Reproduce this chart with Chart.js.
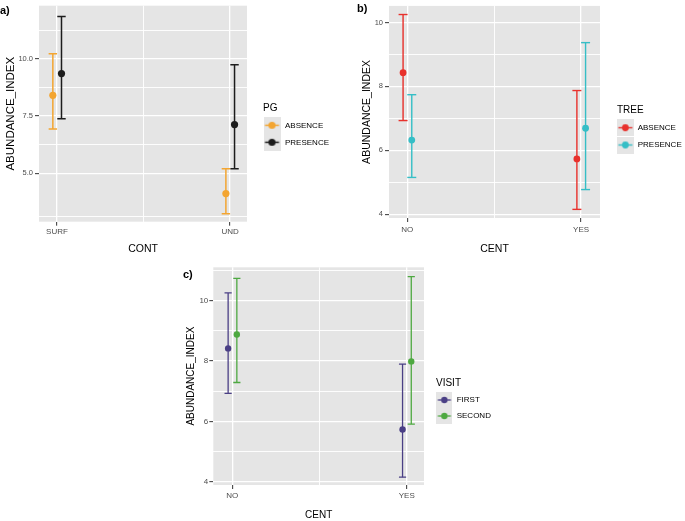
<!DOCTYPE html>
<html>
<head>
<meta charset="utf-8">
<script src="https://cdn.jsdelivr.net/npm/chart.js@4.4.1/dist/chart.umd.min.js"></script>
<style>
  html, body { margin: 0; padding: 0; background: #ffffff; }
  #wrap { position: relative; width: 685px; height: 521px; overflow: hidden; }
  #wrap canvas { position: absolute; }
</style>
</head>
<body>
<div id="wrap">
  <canvas id="panelA" width="340" height="258" style="left:0px;top:0px"></canvas>
  <canvas id="panelB" width="345" height="258" style="left:340px;top:0px"></canvas>
  <canvas id="panelC" width="400" height="263" style="left:150px;top:258px"></canvas>
</div>
<script>
// ---------------- DATA ----------------
// Panel a) ABUNDANCE_INDEX by CONT, grouped by PG
const contCategories = ['SURF', 'UND'];
const pgGroups = ['ABSENCE', 'PRESENCE'];
const pgAbsenceMean  = [8.41, 4.11];
const pgAbsenceLow   = [6.94, 3.23];
const pgAbsenceHigh  = [10.23, 5.20];
const pgPresenceMean = [9.36, 7.13];
const pgPresenceLow  = [7.38, 5.20];
const pgPresenceHigh = [11.86, 9.75];
const pgMajorTicks = [5.0, 7.5, 10.0];
const pgMinorTicks = [3.1, 6.25, 8.75, 11.25];

// Panel b) ABUNDANCE_INDEX by CENT, grouped by TREE
const centCategories = ['NO', 'YES'];
const treeGroups = ['ABSENCE', 'PRESENCE'];
const treeAbsenceMean  = [8.43, 5.73];
const treeAbsenceLow   = [6.93, 4.15];
const treeAbsenceHigh  = [10.25, 7.87];
const treePresenceMean = [6.32, 6.69];
const treePresenceLow  = [5.15, 4.77];
const treePresenceHigh = [7.74, 9.37];
const treeMajorTicks = [4, 6, 8, 10];
const treeMinorTicks = [5, 7, 9];

// Panel c) ABUNDANCE_INDEX by CENT, grouped by VISIT
const visitGroups = ['FIRST', 'SECOND'];
const visitFirstMean  = [8.42, 5.73];
const visitFirstLow   = [6.93, 4.15];
const visitFirstHigh  = [10.26, 7.90];
const visitSecondMean = [8.88, 7.99];
const visitSecondLow  = [7.29, 5.91];
const visitSecondHigh = [10.74, 10.80];
const visitMajorTicks = [4, 6, 8, 10];
const visitMinorTicks = [5, 7, 9, 11];

// category positions on the x axis (1 = first category, 2 = second) and the mid grid line
const xMajorPositions = [1, 2];
const xMinorPositions = [1.5];

// ---------------- STYLE ----------------
const FONT = "'Liberation Sans', Arial, Helvetica, sans-serif";
const PANEL_BG = '#E5E5E5';
Chart.defaults.font.family = FONT;

function makeKey(color, w, h, lw, r) {
  const c = document.createElement('canvas');
  c.width = w; c.height = h;
  const g = c.getContext('2d');
  g.fillStyle = PANEL_BG;
  g.fillRect(0, 0, w, h);
  g.strokeStyle = color; g.lineWidth = lw;
  g.beginPath(); g.moveTo(1.5, h / 2); g.lineTo(w - 1.5, h / 2); g.stroke();
  g.fillStyle = color;
  g.beginPath(); g.arc(w / 2, h / 2, r, 0, Math.PI * 2); g.fill();
  return c;
}

function buildPanel(p) {
  const datasets = [];
  p.groups.forEach((g) => {
    const errData = [];
    p.categories.forEach((cat, i) => {
      const x = i + 1 + g.offset;
      errData.push({ x: x, y: g.low[i] }, { x: x, y: g.high[i] }, { x: x, y: null });
    });
    datasets.push({
      label: g.name + ' interval', data: errData, showLine: true, spanGaps: false,
      borderColor: g.color, borderWidth: p.lineWidth, backgroundColor: g.color,
      pointStyle: 'line', pointRadius: p.capHalf, pointHoverRadius: p.capHalf,
      pointBorderColor: g.color, pointBorderWidth: p.lineWidth, order: 1
    });
  });
  p.groups.forEach((g) => {
    datasets.push({
      label: g.name,
      data: g.mean.map((m, i) => ({ x: i + 1 + g.offset, y: m })),
      showLine: false, pointStyle: 'circle', pointRadius: p.pointR, pointHoverRadius: p.pointR,
      pointBackgroundColor: g.color, pointBorderColor: g.color, pointBorderWidth: 0, order: 0
    });
  });

  const keyImgs = p.groups.map(g => makeKey(g.color, p.keyW, p.keyH, p.lineWidth, p.pointR));
  const yMajor = p.majorTicks, yAll = p.majorTicks.concat(p.minorTicks).sort((a, b) => a - b);
  const xAll = xMajorPositions.concat(xMinorPositions).sort((a, b) => a - b);
  const isMajorY = v => yMajor.some(m => Math.abs(m - v) < 1e-9);
  const isMajorX = v => xMajorPositions.some(m => Math.abs(m - v) < 1e-9);

  const bgPlugin = {
    id: 'panelBg',
    beforeDraw(chart) {
      const a = chart.chartArea, ctx = chart.ctx;
      ctx.save(); ctx.fillStyle = PANEL_BG;
      ctx.fillRect(a.left, a.top, a.right - a.left, a.bottom - a.top);
      ctx.restore();
    }
  };
  const tagPlugin = {
    id: 'panelTag',
    afterDraw(chart) {
      const ctx = chart.ctx;
      ctx.save();
      ctx.font = 'bold 11px ' + FONT;
      ctx.fillStyle = '#000';
      ctx.textBaseline = 'middle'; ctx.textAlign = 'left';
      ctx.fillText(p.tag, p.tagX, p.tagY);
      ctx.restore();
    }
  };

  return new Chart(document.getElementById(p.canvas), {
    type: 'scatter',
    data: { datasets: datasets },
    plugins: [bgPlugin, tagPlugin],
    options: {
      responsive: false, animation: false, events: [],
      layout: { padding: { top: p.padTop, left: 0, right: p.padRight, bottom: 0 } },
      plugins: {
        tooltip: { enabled: false },
        legend: {
          display: true, position: 'right', align: 'start', maxWidth: p.legendMaxW,
          title: {
            display: true, text: p.legendTitle, position: 'start', color: '#000',
            font: { size: 10, lineHeight: 1 },
            padding: { top: p.legTitleTop, bottom: p.legTitleBottom }
          },
          labels: {
            usePointStyle: true, pointStyleWidth: p.boxW, padding: 0, color: '#000',
            font: { size: 8, lineHeight: p.keySpacing / 8 },
            generateLabels: () => p.groups.map((g, gi) => ({
              text: [g.name], pointStyle: keyImgs[gi], fillStyle: g.color, strokeStyle: g.color,
              lineWidth: 0, hidden: false, datasetIndex: gi, fontColor: '#000'
            }))
          }
        }
      },
      scales: {
        x: {
          type: 'linear', min: p.xMin, max: p.xMax,
          afterBuildTicks: s => { s.ticks = xAll.map(v => ({ value: v })); },
          afterFit: s => { s.height = p.xAxisH; s.paddingLeft = 0; s.paddingRight = 0; },
          ticks: {
            autoSkip: false, maxRotation: 0, padding: p.xTickPad, color: '#4D4D4D',
            font: { size: 8, lineHeight: 1.2 },
            callback: v => isMajorX(v) ? p.categories[Math.round(v) - 1] : ''
          },
          grid: {
            color: '#FFFFFF', drawTicks: true, tickLength: 4,
            lineWidth: c => (c.tick && isMajorX(c.tick.value)) ? 1.3 : 0.9,
            tickColor: c => (c.tick && isMajorX(c.tick.value)) ? '#333333' : 'rgba(0,0,0,0)',
            tickWidth: 1
          },
          border: { display: false },
          title: {
            display: true, text: p.xTitle, color: '#000',
            font: { size: p.xTitleSize, lineHeight: 1 }, padding: { top: 0, bottom: p.xTitlePadB }
          }
        },
        y: {
          type: 'linear', position: 'left', min: p.yMin, max: p.yMax,
          afterBuildTicks: s => { s.ticks = yAll.map(v => ({ value: v })); },
          afterFit: s => { s.width = p.yAxisW; s.paddingTop = 0; s.paddingBottom = 0; },
          ticks: {
            autoSkip: false, padding: p.yTickPad, color: '#4D4D4D',
            font: { size: p.yTickSize, lineHeight: 1.2 },
            callback: v => isMajorY(v) ? p.tickFmt(v) : ''
          },
          grid: {
            color: '#FFFFFF', drawTicks: true, tickLength: 4,
            lineWidth: c => (c.tick && isMajorY(c.tick.value)) ? 1.3 : 0.9,
            tickColor: c => (c.tick && isMajorY(c.tick.value)) ? '#333333' : 'rgba(0,0,0,0)',
            tickWidth: 1
          },
          border: { display: false },
          title: {
            display: true, text: 'ABUNDANCE_INDEX', color: '#000',
            font: { size: p.yTitleSize, lineHeight: 1 }, padding: { top: p.yTitlePadT, bottom: 0 }
          }
        },
        yGap: {
          type: 'linear', position: 'right', display: true,
          ticks: { display: false }, grid: { display: false, drawTicks: false },
          border: { display: false }, title: { display: false },
          afterFit: s => { s.width = p.legendGap; s.paddingTop = 0; s.paddingBottom = 0; }
        }
      }
    }
  });
}

// ---------------- PANELS ----------------
buildPanel({
  canvas: 'panelA', tag: 'a)', tagX: 0, tagY: 11,
  categories: contCategories,
  groups: [
    { name: pgGroups[0], color: '#F3A531', mean: pgAbsenceMean, low: pgAbsenceLow, high: pgAbsenceHigh, offset: -0.024 },
    { name: pgGroups[1], color: '#1C1C1C', mean: pgPresenceMean, low: pgPresenceLow, high: pgPresenceHigh, offset: 0.026 }
  ],
  majorTicks: pgMajorTicks, minorTicks: pgMinorTicks, tickFmt: v => v.toFixed(1),
  yMin: 2.88, yMax: 12.33, xMin: 0.896, xMax: 2.098,
  padTop: 3, padRight: 7, yAxisW: 39, xAxisH: 36.3,
  yTitleSize: 11.5, yTitlePadT: 5, yTickSize: 7.5, yTickPad: 2,
  xTitle: 'CONT', xTitleSize: 10.5, xTitlePadB: 3.7, xTickPad: 1.5,
  legendTitle: 'PG', legendGap: 16, legendMaxW: 70, legTitleTop: 100, legTitleBottom: 8.3,
  keySpacing: 17, boxW: 18, keyW: 17, keyH: 17,
  pointR: 3.6, lineWidth: 1.5, capHalf: 4.2
});

buildPanel({
  canvas: 'panelB', tag: 'b)', tagX: 17, tagY: 9,
  categories: centCategories,
  groups: [
    { name: treeGroups[0], color: '#E8312C', mean: treeAbsenceMean, low: treeAbsenceLow, high: treeAbsenceHigh, offset: -0.024 },
    { name: treeGroups[1], color: '#35BEC6', mean: treePresenceMean, low: treePresenceLow, high: treePresenceHigh, offset: 0.026 }
  ],
  majorTicks: treeMajorTicks, minorTicks: treeMinorTicks, tickFmt: v => String(v),
  yMin: 3.88, yMax: 10.52, xMin: 0.895, xMax: 2.109,
  padTop: 2, padRight: 0, yAxisW: 49, xAxisH: 40,
  yTitleSize: 10.5, yTitlePadT: 21.4, yTickSize: 7.5, yTickPad: 2,
  xTitle: 'CENT', xTitleSize: 10.5, xTitlePadB: 3.75, xTickPad: 2.7,
  legendTitle: 'TREE', legendGap: 17, legendMaxW: 68, legTitleTop: 103, legTitleBottom: 8.7,
  keySpacing: 17.3, boxW: 16.7, keyW: 17, keyH: 17,
  pointR: 3.4, lineWidth: 1.4, capHalf: 4.5
});

buildPanel({
  canvas: 'panelC', tag: 'c)', tagX: 33, tagY: 16.5,
  categories: centCategories,
  groups: [
    { name: visitGroups[0], color: '#4A3F85', mean: visitFirstMean, low: visitFirstLow, high: visitFirstHigh, offset: -0.024 },
    { name: visitGroups[1], color: '#4EA941', mean: visitSecondMean, low: visitSecondLow, high: visitSecondHigh, offset: 0.026 }
  ],
  majorTicks: visitMajorTicks, minorTicks: visitMinorTicks, tickFmt: v => String(v),
  yMin: 3.89, yMax: 11.11, xMin: 0.891, xMax: 2.099,
  padTop: 9.3, padRight: 54, yAxisW: 63.3, xAxisH: 36,
  yTitleSize: 10, yTitlePadT: 36.7, yTickSize: 8, yTickPad: 1,
  xTitle: 'CENT', xTitleSize: 10, xTitlePadB: 0.5, xTickPad: 2.2,
  legendTitle: 'VISIT', legendGap: 12, legendMaxW: 60, legTitleTop: 110.7, legTitleBottom: 8,
  keySpacing: 16, boxW: 16.7, keyW: 16, keyH: 16,
  pointR: 3.2, lineWidth: 1.3, capHalf: 3.6
});
</script>
</body>
</html>
